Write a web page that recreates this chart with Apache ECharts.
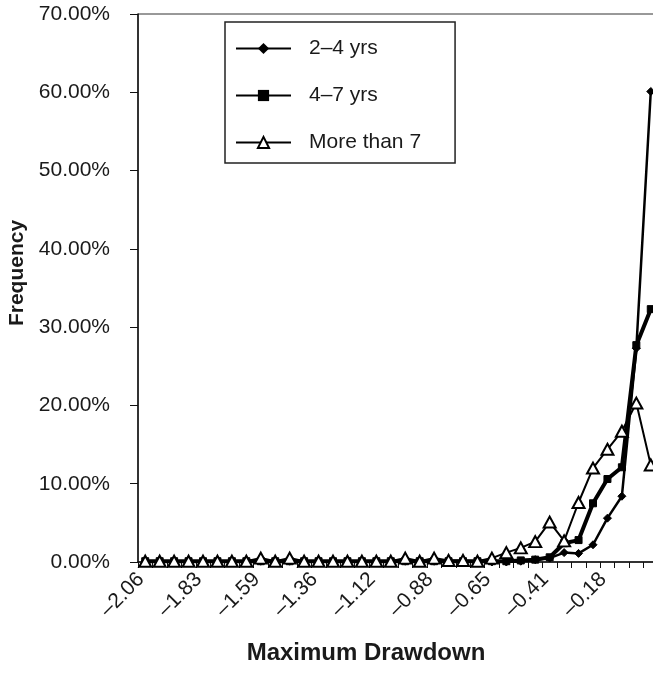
<!DOCTYPE html>
<html>
<head>
<meta charset="utf-8">
<script src="https://cdn.jsdelivr.net/npm/echarts@6/dist/echarts.min.js"></script>
<style>
html,body{margin:0;padding:0;background:#fff;}
#chart{width:653px;height:673px;}
</style>
</head>
<body>
<div id="chart"></div>
<script>
// Category bins (maximum drawdown)
var categories = [
  '–2.06','–2.00','–1.94','–1.88','–1.83','–1.77','–1.71','–1.65','–1.59','–1.53',
  '–1.47','–1.41','–1.36','–1.30','–1.24','–1.18','–1.12','–1.06','–1.00','–0.94',
  '–0.88','–0.83','–0.77','–0.71','–0.65','–0.59','–0.53','–0.47','–0.41','–0.36',
  '–0.30','–0.24','–0.18','–0.12','–0.06','0.00'
];
// Frequencies in percent
var twoToFour = [
  0.1,0.1,0.1,0.1,0.1,0.1,0.1,0.1,0.1,0.1,
  0.1,0.1,0.1,0.1,0.1,0.1,0.1,0.1,0.1,0.1,
  0.1,0.1,0.1,0.1,0.0,0.0,0.1,0.3,0.5,1.2,
  1.1,2.2,5.6,8.4,27.3,60.1
];
var fourToSeven = [
  0.1,0.1,0.1,0.1,0.1,0.1,0.1,0.1,0.1,0.1,
  0.1,0.1,0.1,0.1,0.1,0.1,0.1,0.1,0.1,0.1,
  0.1,0.1,0.1,0.1,0.1,0.1,0.2,0.3,0.6,2.4,
  2.8,7.5,10.6,12.1,27.7,32.3
];
var moreThanSeven = [
  0.1,0.1,0.1,0.1,0.1,0.1,0.1,0.1,0.5,0.1,
  0.5,0.1,0.1,0.1,0.1,0.1,0.1,0.1,0.5,0.1,
  0.5,0.2,0.2,0.1,0.5,1.2,1.8,2.6,5.1,2.7,
  7.6,12.0,14.4,16.7,20.3,12.4
];
var seriesNames = ['2–4 yrs','4–7 yrs','More than 7'];
var yTicks = { min: 0, max: 70, interval: 10 };

var FONT = '"Liberation Sans", Arial, Helvetica, sans-serif';
var chart = echarts.init(document.getElementById('chart'), null, {renderer: 'canvas'});
chart.setOption({
  animation: false,
  backgroundColor: '#fff',
  grid: {
    left: 138, top: 14, right: -5, bottom: 111,
    outerBoundsMode: 'none',
    containLabel: false,
    show: true, borderColor: '#333', borderWidth: 1, backgroundColor: 'transparent'
  },
  legend: {
    orient: 'vertical',
    left: 225, top: 22,
    padding: [16, 34, 10, 10],
    borderColor: '#222', borderWidth: 1.5,
    itemWidth: 55, itemHeight: 14, itemGap: 26,
    textStyle: { fontFamily: FONT, fontSize: 21, color: '#1a1a1a', lineHeight: 21, padding: [0, 0, 0, 13] },
    data: seriesNames
  },
  xAxis: {
    type: 'category',
    data: categories,
    boundaryGap: true,
    name: 'Maximum Drawdown',
    nameLocation: 'middle',
    nameGap: 79,
    nameTextStyle: { fontFamily: FONT, fontSize: 24, fontWeight: 'bold', color: '#1a1a1a', padding: [0, 64, 0, 0] },
    axisLine: { lineStyle: { color: '#111', width: 1.5 } },
    axisTick: { show: true, interval: 0, length: 6, lineStyle: { color: '#111' } },
    axisLabel: { interval: 3, rotate: 45, margin: 10, padding: [0, 6, 0, 0], fontFamily: FONT, fontSize: 21, color: '#1a1a1a' },
    splitLine: { show: false }
  },
  yAxis: {
    type: 'value',
    min: yTicks.min, max: yTicks.max, interval: yTicks.interval,
    name: 'Frequency',
    nameLocation: 'middle',
    nameGap: 109,
    nameTextStyle: { fontFamily: FONT, fontSize: 21, fontWeight: 'bold', color: '#1a1a1a', padding: [0, 0, 0, 30] },
    axisLine: { show: true, lineStyle: { color: '#111', width: 1.5 } },
    axisTick: { show: true, length: 8, lineStyle: { color: '#111' } },
    axisLabel: { margin: 28, fontFamily: FONT, fontSize: 21, color: '#1a1a1a',
      formatter: function (v) { return v.toFixed(2) + '%'; } },
    splitLine: { show: false }
  },
  series: [
    {
      name: seriesNames[0], type: 'line', data: twoToFour,
      symbol: 'diamond', symbolSize: 8, z: 3, showAllSymbol: true,
      lineStyle: { color: '#000', width: 2.5 },
      itemStyle: { color: '#000', borderColor: '#000' }
    },
    {
      name: seriesNames[1], type: 'line', data: fourToSeven,
      symbol: 'rect', symbolSize: 7, z: 4, showAllSymbol: true,
      lineStyle: { color: '#000', width: 4 },
      itemStyle: { color: '#000', borderColor: '#000' }
    },
    {
      name: seriesNames[2], type: 'line', data: moreThanSeven,
      symbol: 'triangle', symbolSize: [12, 11], z: 5, showAllSymbol: true,
      lineStyle: { color: '#000', width: 2 },
      itemStyle: { color: '#fff', borderColor: '#000', borderWidth: 2 }
    }
  ]
});
</script>
</body>
</html>
